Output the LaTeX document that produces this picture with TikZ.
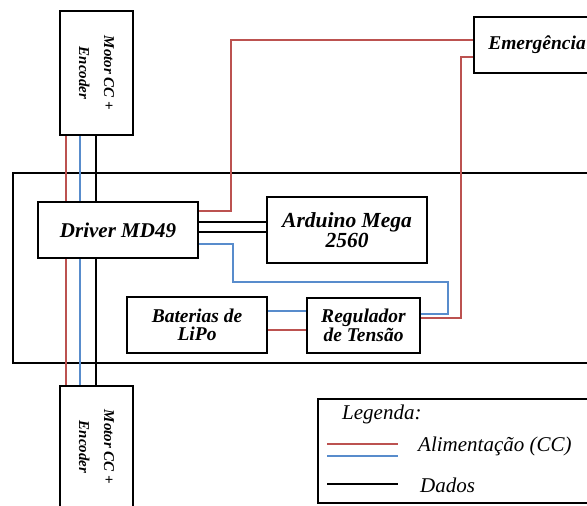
\documentclass[tikz,border=0pt]{standalone}
\usepackage{fontspec}
\setmainfont{Liberation Serif}
\usetikzlibrary{calc}
\definecolor{pwrred}{RGB}{188,82,80}
\definecolor{pwrblue}{RGB}{88,140,204}
\tikzset{
  blk/.style={draw=black, line width=2.6pt, fill=white, inner sep=0pt, align=center,
    font=\bfseries\itshape},
  pwr/.style={draw=pwrred, line width=2.2pt},
  sig/.style={draw=pwrblue, line width=2.2pt},
  dat/.style={draw=black, line width=2.4pt},
  frm/.style={draw=black, line width=2.4pt},
  lgtxt/.style={anchor=base west, font=\itshape\fontsize{21}{24}\selectfont, inner sep=0pt}
}
\begin{document}
\begin{tikzpicture}[x=1pt,y=-1pt]
\clip (0,0) rectangle (587,506);
\fill[white] (0,0) rectangle (587,506);
% frames
\draw[frm] (13,173) rectangle (610,363);
\draw[frm] (318,399) rectangle (610,503);
% nodes
\node[blk, minimum width=73, minimum height=124, font=\itshape\fontsize{15}{25}\selectfont] (mt) at (96.5,73)
  {\rotatebox{-90}{\begin{tabular}{@{}c@{}}\textbf{Motor CC +}\\\textbf{Encoder}\end{tabular}}};
\node[blk, minimum width=73, minimum height=122, font=\itshape\fontsize{15}{25}\selectfont] (mb) at (96.5,447)
  {\rotatebox{-90}{\begin{tabular}{@{}c@{}}\textbf{Motor CC +}\\\textbf{Encoder}\end{tabular}}};
\node[blk, minimum width=160, minimum height=56, font=\bfseries\itshape\fontsize{21}{18}\selectfont] (drv) at (118,230) {Driver MD49};
\node[blk, minimum width=160, minimum height=66, font=\bfseries\itshape\fontsize{21.5}{18.5}\selectfont] (ard) at (347,230) {Arduino Mega\\2560};
\node[blk, minimum width=126, minimum height=56, font=\bfseries\itshape\fontsize{19.5}{18}\selectfont] (em) at (537,45) {Emergência};
\node[blk, minimum width=140, minimum height=56, font=\bfseries\itshape\fontsize{19.5}{18.5}\selectfont] (bat) at (197,325) {Baterias de\\LiPo};
\node[blk, minimum width=113, minimum height=55, font=\bfseries\itshape\fontsize{19.5}{18.5}\selectfont] (reg) at (363.5,325.5) {Regulador\\de Tensão};
% x positions of motor cables
\coordinate (xr) at (66,0);
\coordinate (xb) at (80,0);
\coordinate (xk) at (96,0);
% motor cables
\draw[pwr] (mt.south -| xr) -- (drv.north -| xr);
\draw[sig] (mt.south -| xb) -- (drv.north -| xb);
\draw[dat] (mt.south -| xk) -- (drv.north -| xk);
\draw[pwr] (drv.south -| xr) -- (mb.north -| xr);
\draw[sig] (drv.south -| xb) -- (mb.north -| xb);
\draw[dat] (drv.south -| xk) -- (mb.north -| xk);
% driver to emergency
\draw[pwr] ($(drv.north east)+(0,10)$) -- ++(32,0) |- ($(em.north west)+(0,24)$);
% emergency to regulator
\draw[pwr] ($(em.north west)+(0,41)$) -- ++(-12,0) |- ($(reg.north east)+(0,21)$);
% driver to arduino
\draw[dat] ($(drv.north east)+(0,21)$) coordinate (k1) -- (k1 -| ard.west);
\draw[dat] ($(drv.north east)+(0,31)$) coordinate (k2) -- (k2 -| ard.west);
% driver to regulator (blue)
\draw[sig] ($(drv.north east)+(0,43)$) -- ++(34,0) -- ++(0,38) -- ++(215,0) |- ($(reg.north east)+(0,17)$);
% batteries to regulator
\draw[sig] ($(bat.north east)+(0,15)$) coordinate (b1) -- (b1 -| reg.west);
\draw[pwr] ($(bat.north east)+(0,34)$) coordinate (b2) -- (b2 -| reg.west);
% legend
\node[lgtxt] (lgt) at (342,419) {Legenda:};
\draw[pwr] (327,444) -- (398,444);
\draw[sig] (327,456) -- (398,456);
\node[lgtxt] (lga) at (418,451) {Alimentação (CC)};
\draw[dat] (327,484) -- (398,484);
\node[lgtxt] (lgd) at (420,492) {Dados};
\end{tikzpicture}
\end{document}
